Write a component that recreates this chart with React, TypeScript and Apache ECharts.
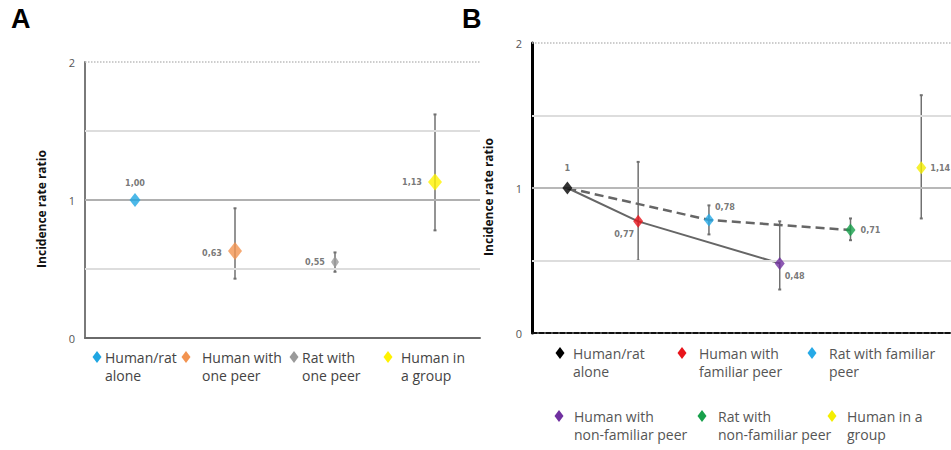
import React, { useEffect, useRef } from "react";
import * as echarts from "echarts";

// ---------- data ----------
const categoriesA = ["Human/rat\nalone", "Human with\none peer", "Rat with\none peer", "Human in\na group"];
const valuesA = [1.0, 0.63, 0.55, 1.13];
const lowA: (number | null)[] = [null, 0.43, 0.48, 0.78];
const highA: (number | null)[] = [null, 0.94, 0.62, 1.62];
const labelsA = ["1,00", "0,63", "0,55", "1,13"];

const categoriesB = [
  "Human/rat\nalone",
  "Human with\nfamiliar peer",
  "Rat with familiar\npeer",
  "Human with\nnon-familiar peer",
  "Rat with\nnon-familiar peer",
  "Human in a\ngroup",
];
const valuesB = [1, 0.77, 0.78, 0.48, 0.71, 1.14];
const lowB: (number | null)[] = [null, 0.5, 0.68, 0.3, 0.64, 0.79];
const highB: (number | null)[] = [null, 1.18, 0.88, 0.77, 0.79, 1.64];
const labelsB = ["1", "0,77", "0,78", "0,48", "0,71", "1,14"];
const solidPathB = [0, 1, 3]; // alone -> human familiar -> human non-familiar
const dashedPathB = [0, 2, 4]; // alone -> rat familiar -> rat non-familiar

const yTicks = [0, 1, 2];
const refLines = [0.5, 1, 1.5, 2];

// ---------- styles ----------
const colorsA = ["#1fa6e2", "#f29350", "#9a9a9a", "#fff200"];
const sizesA = [[11, 14], [14, 18], [8, 12], [14, 17]];
const colorsB = ["#000000", "#e8141b", "#26a9e6", "#7030a0", "#17a04b", "#f4ee00"];
const sizeB = [10, 13];

const labelCfgA = [
  { position: "top", offset: [0, -1] },
  { position: "left", offset: [-1, 2] },
  { position: "left", offset: [-1, 0] },
  { position: "left", offset: [-1, 0] },
];
const labelCfgB = [
  { position: "top", offset: [0, -4] },
  { position: "inside", offset: [-14, 13] },
  { position: "inside", offset: [16, -13] },
  { position: "inside", offset: [15, 13] },
  { position: "right", offset: [0, 0] },
  { position: "right", offset: [-1, 0] },
];

const FONT = "'Open Sans', 'Noto Sans', sans-serif";
const LABEL_FONT = "'Liberation Sans Narrow', 'DejaVu Sans Condensed', sans-serif";

function markLineData(dark: string) {
  return refLines.map((v) => ({
    yAxis: v,
    lineStyle:
      v === 2
        ? { color: "#bdbdbd", width: 1.5, type: "dotted" }
        : v === 1
        ? { color: dark, width: 2, type: "solid" }
        : { color: "#dddddd", width: 2, type: "solid" },
  }));
}

function errorRender(params: any, api: any) {
  const x = api.value(0);
  const lo = api.coord([x, api.value(1)]);
  const hi = api.coord([x, api.value(2)]);
  const st = { stroke: "#707070", lineWidth: 1.5 };
  return {
    type: "group",
    children: [
      { type: "line", shape: { x1: lo[0], y1: lo[1], x2: hi[0], y2: hi[1] }, style: st },
      { type: "line", shape: { x1: lo[0] - 1.5, y1: lo[1], x2: lo[0] + 1.5, y2: lo[1] }, style: { stroke: "#707070", lineWidth: 2 } },
      { type: "line", shape: { x1: hi[0] - 1.5, y1: hi[1], x2: hi[0] + 1.5, y2: hi[1] }, style: { stroke: "#707070", lineWidth: 2 } },
    ],
  };
}

function legendItems(
  names: string[],
  colors: string[],
  pos: { mx: number; my: number; tx: number }[],
  textColor: string
) {
  const out: any[] = [];
  names.forEach((n, i) => {
    const p = pos[i];
    out.push({
      type: "polygon",
      shape: { points: [[p.mx, p.my - 6], [p.mx + 4.5, p.my], [p.mx, p.my + 6], [p.mx - 4.5, p.my]] },
      style: { fill: colors[i] },
    });
    out.push({
      type: "text",
      x: p.tx,
      y: p.my - 9,
      style: { text: n, font: `14px ${FONT}`, fill: textColor, lineHeight: 18.5, verticalAlign: "top", align: "left" },
    });
  });
  return out;
}

export default function App() {
  const ref = useRef<HTMLDivElement>(null);
  useEffect(() => {
    document.body.style.margin = "0";
    if (!ref.current) return;
    const chart = echarts.init(ref.current, null, { renderer: "svg" });

    const errA = valuesA.map((_, i) => (lowA[i] == null ? null : [i, lowA[i], highA[i]])).filter(Boolean);
    const errB = valuesB.map((_, i) => (lowB[i] == null ? null : [i, lowB[i], highB[i]])).filter(Boolean);

    const scatterA = valuesA.map((v, i) => ({
      value: [i, v],
      symbolSize: sizesA[i],
      itemStyle: { color: colorsA[i] },
      label: { show: true, formatter: labelsA[i], ...labelCfgA[i] },
    }));
    const scatterB = valuesB.map((v, i) => ({
      value: [i, v],
      symbolSize: sizeB,
      itemStyle: { color: colorsB[i] },
      label: { show: true, formatter: labelsB[i], ...labelCfgB[i] },
    }));

    const yAxisBase = (axisColor: string, width: number, gap: number) => ({
      type: "value",
      min: 0,
      max: 2,
      interval: 1,
      name: "Incidence rate ratio",
      nameLocation: "middle",
      nameGap: gap,
      nameTextStyle: { fontFamily: FONT, fontWeight: "bold", fontSize: 12, color: "#111", padding: [0, 0, 0, -18] },
      axisLine: { show: true, onZero: false, lineStyle: { color: axisColor, width } },
      axisTick: { show: false },
      splitLine: { show: false },
      axisLabel: {
        color: "#555",
        fontFamily: FONT,
        fontSize: 11,
        margin: 10,
        formatter: (v: number) => (yTicks.includes(v) ? String(v) : ""),
      },
    });

    const labelStyle = { fontFamily: LABEL_FONT, fontSize: 9, fontWeight: "bold", color: "#555" };

    chart.setOption({
      animation: false,
      grid: [
        { left: 85, top: 62, width: 395, height: 276 },
        { left: 532, top: 43, width: 419, height: 290 },
      ],
      xAxis: [
        {
          gridIndex: 0,
          type: "value",
          min: -0.5,
          max: 3.45,
          axisLine: { show: true, onZero: false, lineStyle: { color: "#6a6a6a", width: 2 } },
          axisTick: { show: false },
          axisLabel: { show: false },
          splitLine: { show: false },
        },
        {
          gridIndex: 1,
          type: "value",
          min: -0.5,
          max: 5.42,
          axisLine: { show: true, onZero: false, lineStyle: { color: "#111", width: 2, type: [5, 2] } },
          axisTick: { show: false },
          axisLabel: { show: false },
          splitLine: { show: false },
        },
      ],
      yAxis: [
        { gridIndex: 0, ...yAxisBase("#7a7a7a", 2, 38) },
        { gridIndex: 1, ...yAxisBase("#000", 3, 38) },
      ],
      series: [
        {
          type: "custom",
          xAxisIndex: 0,
          yAxisIndex: 0,
          renderItem: errorRender,
          data: errA,
          z: 2,
          markLine: { silent: true, symbol: "none", label: { show: false }, data: markLineData("#b0b0b0") },
        },
        {
          type: "scatter",
          xAxisIndex: 0,
          yAxisIndex: 0,
          symbol: "diamond",
          data: scatterA,
          z: 5,
          label: labelStyle,
        },
        {
          type: "custom",
          xAxisIndex: 1,
          yAxisIndex: 1,
          renderItem: errorRender,
          data: errB,
          z: 2,
          markLine: { silent: true, symbol: "none", label: { show: false }, data: markLineData("#b8b8b8") },
        },
        {
          type: "line",
          xAxisIndex: 1,
          yAxisIndex: 1,
          data: solidPathB.map((i) => [i, valuesB[i]]),
          showSymbol: false,
          lineStyle: { color: "#666", width: 2 },
          z: 3,
        },
        {
          type: "line",
          xAxisIndex: 1,
          yAxisIndex: 1,
          data: dashedPathB.map((i) => [i, valuesB[i]]),
          showSymbol: false,
          lineStyle: { color: "#666", width: 2.5, type: [9, 5] },
          z: 3,
        },
        {
          type: "scatter",
          xAxisIndex: 1,
          yAxisIndex: 1,
          symbol: "diamond",
          data: scatterB,
          z: 5,
          label: labelStyle,
        },
      ],
      graphic: [
        { type: "text", x: 11, y: 5, style: { text: "A", font: `bold 27px 'Liberation Sans', Arial, sans-serif`, fill: "#000" } },
        { type: "text", x: 462, y: 5, style: { text: "B", font: `bold 27px 'Liberation Sans', Arial, sans-serif`, fill: "#000" } },
        ...legendItems(
          categoriesA,
          colorsA,
          [
            { mx: 97, my: 357, tx: 105 },
            { mx: 186, my: 357, tx: 202 },
            { mx: 294, my: 357, tx: 302 },
            { mx: 388, my: 357, tx: 401 },
          ],
          "#444"
        ),
        ...legendItems(
          categoriesB,
          colorsB,
          [
            { mx: 560, my: 353, tx: 573 },
            { mx: 682, my: 353, tx: 699 },
            { mx: 812, my: 353, tx: 829 },
            { mx: 559, my: 416, tx: 574 },
            { mx: 702, my: 416, tx: 718 },
            { mx: 832, my: 416, tx: 847 },
          ],
          "#555"
        ),
      ],
    });
    return () => chart.dispose();
  }, []);
  return <div ref={ref} style={{ width: 951, height: 450 }} />;
}
